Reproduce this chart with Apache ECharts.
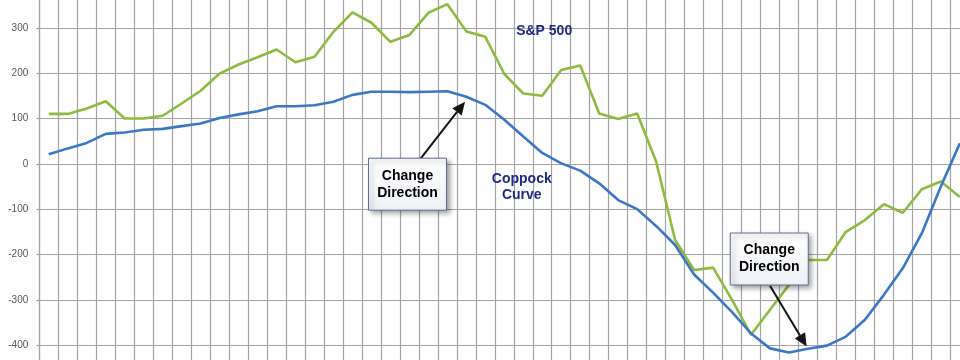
<!DOCTYPE html>
<html><head><meta charset="utf-8">
<script src="https://cdn.jsdelivr.net/npm/echarts@6/dist/echarts.min.js"></script>
<style>html,body{margin:0;padding:0;background:#fff}#c{width:960px;height:360px}</style>
</head><body><div id="c"></div>
<script>
var categories = [];
for (var i = 1; i <= 49; i++) categories.push(String(i));

var sp500 = [110,110,122,138,100,100,106,133,161,199,219,235,252,224,236,291,334,311,269,284,333,352,292,280,198,155,150,207,217,111,99,111,5,-168,-234,-229,-300,-377,-322,-267,-212,-212,-150,-124,-89,-108,-56,-39,-73];
var coppock = [21,34,46,66,69,75,77,83,89,101,109,116,127,127,129,137,152,159,159,158,159,160,148,130,97,60,24,1,-15,-43,-80,-100,-137,-179,-244,-284,-327,-374,-407,-416,-408,-401,-381,-344,-289,-230,-153,-50,45];

var yMin = -500, yMax = 400, yStep = 100;

// annotation anchors in data coordinates [category position, value]
var box1 = [18.9, -45], box2 = [37.96, -210];
var arrow1 = [[19.6, 12], [21.93, 137]];
var arrow2 = [[38.0, -269], [39.93, -403]];
var spLabel = [26.1, 293], coppockLabel = [24.92, -52];

var chart = echarts.init(document.getElementById('c'), null, {renderer: 'canvas'});
var gridColor = '#a3a3a3';
chart.setOption({
  animation: false,
  backgroundColor: '#ffffff',
  grid: {left: 39.3, right: -9.3, top: -17.6, bottom: -30.55, containLabel: false, outerBoundsMode: 'none'},
  xAxis: {
    type: 'category', data: categories, boundaryGap: true,
    axisLine: {show: false, onZero: false}, axisTick: {show: false}, axisLabel: {show: false},
    splitLine: {show: true, interval: 0, lineStyle: {color: gridColor, width: 1.2}}
  },
  yAxis: {
    type: 'value', min: yMin, max: yMax, interval: yStep,
    axisLine: {show: true, lineStyle: {color: gridColor, width: 1.2}},
    axisTick: {show: true, length: 3, lineStyle: {color: gridColor, width: 1.2}},
    axisLabel: {margin: 11, color: '#595959', fontSize: 10, fontFamily: 'Liberation Sans'},
    splitLine: {show: true, lineStyle: {color: gridColor, width: 1.2}}
  },
  series: [
    {type: 'line', name: 'S&P 500', data: sp500, symbol: 'none', lineStyle: {color: '#8cbb3e', width: 2.6}, z: 3},
    {type: 'line', name: 'Coppock Curve', data: coppock, symbol: 'none', lineStyle: {color: '#3a78c6', width: 2.6}, z: 4}
  ]
});

function px(p) {
  var a = chart.convertToPixel({gridIndex: 0}, [0, 0]);
  var b = chart.convertToPixel({gridIndex: 0}, [1, 0]);
  var c = chart.convertToPixel({gridIndex: 0}, [0, 100]);
  return [a[0] + (b[0] - a[0]) * p[0], a[1] + (c[1] - a[1]) * p[1] / 100];
}

function boxEls(anchor) {
  var c = px(anchor), w = 78, h = 52;
  return [
    {type: 'rect', z: 100, shape: {x: c[0] - w / 2, y: c[1] - h / 2, width: w, height: h},
      style: {fill: new echarts.graphic.LinearGradient(0, 0, 0, 1, [{offset: 0, color: '#ffffff'}, {offset: 1, color: '#eef1f6'}]),
        stroke: '#5d6d8f', lineWidth: 1, shadowBlur: 5, shadowOffsetX: 3, shadowOffsetY: 3, shadowColor: 'rgba(0,0,0,0.38)'}},
    {type: 'text', z: 101, x: c[0], y: c[1],
      style: {text: 'Change\nDirection', font: 'bold 14px "Liberation Sans", Arial', fill: '#000', align: 'center', verticalAlign: 'middle', lineHeight: 17}}
  ];
}

function arrowEls(seg) {
  var p0 = px(seg[0]), p1 = px(seg[1]);
  var dx = p1[0] - p0[0], dy = p1[1] - p0[1], L = Math.sqrt(dx * dx + dy * dy);
  var ux = dx / L, uy = dy / L, hl = 13, hw = 6;
  var bx = p1[0] - ux * hl, by = p1[1] - uy * hl;
  return [
    {type: 'line', z: 99, shape: {x1: p0[0], y1: p0[1], x2: bx, y2: by}, style: {stroke: '#141414', lineWidth: 2}},
    {type: 'polygon', z: 99, shape: {points: [[p1[0], p1[1]], [bx - uy * hw, by + ux * hw], [bx + uy * hw, by - ux * hw]]}, style: {fill: '#141414'}}
  ];
}

var sp = px(spLabel), cp = px(coppockLabel);
var els = [].concat(arrowEls(arrow1), arrowEls(arrow2), boxEls(box1), boxEls(box2), [
  {type: 'text', z: 50, x: sp[0], y: sp[1], style: {text: 'S&P 500', font: 'bold 14px "Liberation Sans", Arial', fill: '#1d2a85', align: 'center', verticalAlign: 'middle'}},
  {type: 'text', z: 50, x: cp[0], y: cp[1], style: {text: 'Coppock\nCurve', font: 'bold 14px "Liberation Sans", Arial', fill: '#1d2a85', align: 'center', verticalAlign: 'middle', lineHeight: 16}}
]);
chart.setOption({graphic: els});
</script>
</body></html>
